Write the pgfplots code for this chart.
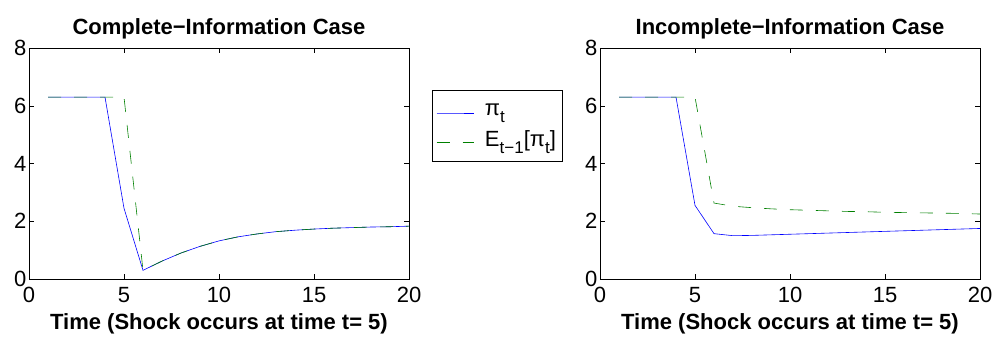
\documentclass[border=0pt]{standalone}
\usepackage{pgfplots}
\pgfplotsset{compat=1.18}
\usepackage{fontspec}
\setmainfont{Liberation Sans}
\definecolor{mblue}{rgb}{0,0,1}
\definecolor{mgreen}{rgb}{0,0.5,0}
\newcommand{\sub}[1]{\raisebox{-7pt}{\fontsize{17}{17}\selectfont #1}}
\pgfplotsset{
  every axis/.append style={
    scale only axis, width=380pt, height=231pt,
    xmin=0, xmax=20, ymin=0, ymax=8,
    xtick={0,5,10,15,20}, ytick={0,2,4,6,8},
    tick align=inside, major tick length=5pt,
    tick style={black, line width=0.5pt},
    axis line style={line width=0.8pt},
    ticklabel style={font=\fontsize{22}{22}\selectfont},
    /pgf/number format/assume math mode=true,
    xlabel={\fontsize{22}{22}\selectfont\bfseries Time (Shock occurs at time t= 5)},
    title style={font=\fontsize{22}{22}\selectfont\bfseries, yshift=-1pt},
    xlabel style={yshift=-4pt},
    xticklabel style={yshift=-5pt},
    yticklabel style={xshift=1pt},
  },
  pi/.style={draw=mblue, color=mblue, line width=0.6pt},
  ex/.style={draw=mgreen, color=mgreen, line width=0.6pt, dash pattern=on 13pt off 13pt},
}
\begin{document}
\begin{tikzpicture}[x=1pt,y=1pt]
\useasboundingbox (0,0) rectangle (995,337);
\begin{axis}[at={(29pt,58pt)}, anchor=south west,
  title={Complete−Information Case},
  legend style={at={(1.0605,0.818)}, anchor=north west, draw=black, line width=0.8pt,
    font=\fontsize{22}{24}\selectfont, cells={anchor=west}, inner xsep=4pt, inner ysep=11pt,
    row sep=10pt, column sep=9pt,
    legend image code/.code={\draw[mark repeat=2,mark phase=2, line width=0.6pt] plot coordinates {(6pt,-3pt)(24pt,-3pt)(43pt,-3pt)};}},
  legend cell align=left]
\addplot[pi] coordinates {(1,6.3)(2,6.3)(3,6.3)(4,6.3)(5,2.45)(6,0.30)(7,0.62)(8,0.90)(9,1.13)(10,1.32)(11,1.46)(12,1.56)(13,1.64)(14,1.69)(15,1.73)(16,1.76)(17,1.78)(18,1.80)(19,1.81)(20,1.83)};
\addlegendentry{π\sub{t}}
\addplot[ex] coordinates {(1,6.3)(2,6.3)(3,6.3)(4,6.3)(5,6.3)(6,0.30)(7,0.62)(8,0.90)(9,1.13)(10,1.32)(11,1.46)(12,1.56)(13,1.64)(14,1.69)(15,1.73)(16,1.76)(17,1.78)(18,1.80)(19,1.81)(20,1.83)};
\addlegendentry{E\sub{t−1}[π\sub{t}]}
\end{axis}
\begin{axis}[at={(600pt,58pt)}, anchor=south west,
  title={Incomplete−Information Case}]
\addplot[pi] coordinates {(1,6.3)(2,6.3)(3,6.3)(4,6.3)(5,2.55)(6,1.57)(7,1.50)(8,1.51)(9,1.53)(10,1.55)(11,1.57)(12,1.59)(13,1.61)(14,1.63)(15,1.65)(16,1.67)(17,1.69)(18,1.71)(19,1.73)(20,1.75)};
\addplot[ex] coordinates {(1,6.3)(2,6.3)(3,6.3)(4,6.3)(5,6.3)(6,2.63)(7,2.52)(8,2.47)(9,2.43)(10,2.40)(11,2.38)(12,2.36)(13,2.34)(14,2.33)(15,2.31)(16,2.30)(17,2.29)(18,2.28)(19,2.27)(20,2.25)};
\end{axis}
\end{tikzpicture}
\end{document}
